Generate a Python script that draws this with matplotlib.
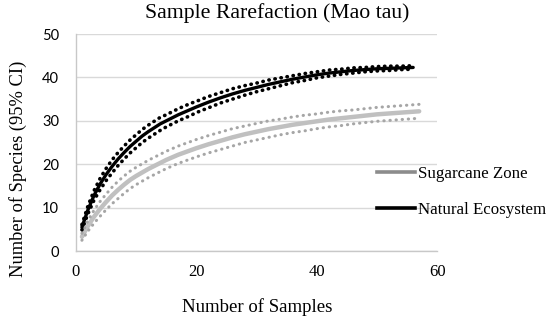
import numpy as np
import matplotlib
matplotlib.use("Agg")
import matplotlib.pyplot as plt
from matplotlib.lines import Line2D

# rarefaction curves
nat_x = [1, 2, 3, 4, 5, 6, 7, 8, 9, 10, 11, 12, 13, 14, 15, 16, 17, 18, 19, 20,
         22, 24, 26, 28, 30, 32, 34, 36, 38, 40, 42, 44, 46, 48, 50, 52, 54, 56]
nat_y = [5.5, 9.5, 12.8, 15.4, 17.6, 19.5, 21.2, 22.7, 24.1, 25.3, 26.5, 27.5, 28.4, 29.3, 30.0, 30.7, 31.4, 32.0, 32.6, 33.2,
         34.3, 35.3, 36.2, 37.0, 37.7, 38.4, 39.0, 39.6, 40.1, 40.6, 41.0, 41.3, 41.6, 41.8, 42.0, 42.1, 42.2, 42.3]
nat_ci = [0.6, 0.9, 1.1, 1.3, 1.4, 1.5, 1.5, 1.5, 1.5, 1.5, 1.5, 1.5, 1.5, 1.5, 1.4, 1.4, 1.4, 1.4, 1.4, 1.3,
          1.3, 1.2, 1.2, 1.1, 1.0, 1.0, 0.9, 0.8, 0.8, 0.7, 0.7, 0.6, 0.6, 0.5, 0.5, 0.5, 0.4, 0.4]

sug_x = [1, 2, 3, 4, 5, 6, 7, 8, 9, 10, 11, 12, 13, 14, 15, 16, 17, 18, 19, 20,
         22, 24, 26, 28, 30, 32, 34, 36, 38, 40, 42, 44, 46, 48, 50, 52, 54, 56, 57]
sug_y = [3.3, 5.8, 7.9, 9.7, 11.3, 12.8, 14.1, 15.3, 16.4, 17.3, 18.1, 18.9, 19.6, 20.3, 21.0, 21.6, 22.2, 22.7, 23.2, 23.7,
         24.6, 25.4, 26.2, 26.9, 27.5, 28.1, 28.6, 29.1, 29.5, 29.9, 30.3, 30.6, 30.9, 31.2, 31.5, 31.7, 31.9, 32.1, 32.2]
sug_ci = [0.8, 1.2, 1.5, 1.7, 1.8, 1.9, 2.0, 2.0, 2.0, 2.0, 2.0, 2.0, 2.0, 2.0, 2.0, 2.0, 2.0, 2.0, 2.0, 2.0,
          2.0, 2.0, 2.0, 1.9, 1.9, 1.9, 1.8, 1.8, 1.8, 1.7, 1.7, 1.7, 1.6, 1.6, 1.6, 1.6, 1.6, 1.6, 1.6]

x_ticks = [0, 20, 40, 60]
y_ticks = [0, 10, 20, 30, 40, 50]

serif = ["Liberation Serif", "DejaVu Serif"]

fig = plt.figure(figsize=(5.5, 3.24), dpi=100)
ax = fig.add_axes([0.138, 0.225, 0.657, 0.670])

nx = np.array(nat_x); ny = np.array(nat_y); nc = np.array(nat_ci)
sx = np.array(sug_x); sy = np.array(sug_y); sc = np.array(sug_ci)

# sugarcane (grey)
ax.plot(sx, sy, color="#c0c0c0", lw=3.2, solid_capstyle="round", zorder=3)
ax.plot(sx, sy + sc, color="#a6a6a6", lw=2.2, ls=(0, (0.1, 1.9)), dash_capstyle="round", zorder=3)
ax.plot(sx, sy - sc, color="#a6a6a6", lw=2.2, ls=(0, (0.1, 1.9)), dash_capstyle="round", zorder=3)

# natural (black)
ax.plot(nx, ny, color="black", lw=2.4, solid_capstyle="round", zorder=4)
ax.plot(nx, ny + nc, color="black", lw=2.6, ls=(0, (0.1, 1.6)), dash_capstyle="round", zorder=4)
ax.plot(nx, ny - nc, color="black", lw=2.6, ls=(0, (0.1, 1.6)), dash_capstyle="round", zorder=4)

ax.set_xlim(0, 60)
ax.set_ylim(0, 50)
ax.set_xticks(x_ticks)
ax.set_yticks(y_ticks)
ax.yaxis.grid(True, color="#d9d9d9", lw=1.0)
ax.set_axisbelow(True)
for s in ["top", "right"]:
    ax.spines[s].set_visible(False)
for s in ["left", "bottom"]:
    ax.spines[s].set_color("#c8c8c8")
    ax.spines[s].set_linewidth(1.0)
ax.tick_params(axis="both", length=0)
ax.tick_params(axis="y", pad=12)
ax.tick_params(axis="x", pad=9)
for lab in ax.get_yticklabels():
    lab.set_fontfamily(["Lato", "DejaVu Sans"])
    lab.set_fontsize(10.5)
for lab in ax.get_xticklabels():
    lab.set_fontfamily(serif)
    lab.set_fontsize(12)

# titles placed where the original puts them
fig.text(0.5045, 0.96, "Sample Rarefaction (Mao tau)", family=serif, fontsize=15.7,
         ha="center", va="center")
fig.text(0.467, 0.0525, "Number of Samples", family=serif, fontsize=13.5,
         ha="center", va="center")
fig.text(0.033, 0.478, "Number of Species (95% CI)", family=serif, fontsize=13.3,
         ha="center", va="center", rotation=90)

handles = [Line2D([], [], color="#8c8c8c", lw=2.6),
           Line2D([], [], color="black", lw=2.6)]
leg = fig.legend(handles, ["Sugarcane Zone", "Natural Ecosystem"],
                 loc="center left", bbox_to_anchor=(0.6855, 0.4074),
                 frameon=False, prop={"family": serif, "size": 12.2},
                 handlelength=2.25, handletextpad=0.15, labelspacing=1.2,
                 borderpad=0, borderaxespad=0)

fig.savefig("out.png", dpi=100)
